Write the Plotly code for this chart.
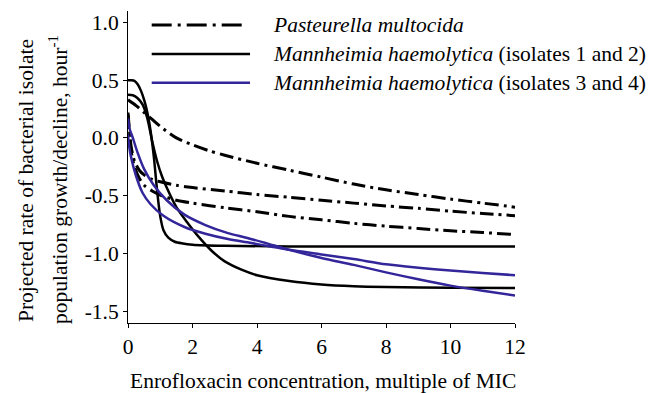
import plotly.graph_objects as go

# ---- data ----
x_p1 = [0, 0.25, 0.5, 0.75, 1, 1.5, 2, 2.5, 3, 4, 5, 6, 7, 8, 9, 10, 11, 12]
y_p1 = [0.33, 0.28, 0.22, 0.16, 0.10, 0.0, -0.06, -0.11, -0.15, -0.22, -0.28, -0.34, -0.40, -0.45, -0.49, -0.53, -0.565, -0.60]

x_p23 = [0, 0.05, 0.1, 0.2, 0.35, 0.5, 0.75, 1, 1.5, 2, 3, 4, 5, 6, 7, 8, 9, 10, 11, 12]
y_p2 = [0.22, 0.05, -0.08, -0.2, -0.28, -0.32, -0.36, -0.38, -0.41, -0.43, -0.46, -0.49, -0.515, -0.54, -0.565, -0.59, -0.61, -0.635, -0.655, -0.674]
y_p3 = [0.2, 0.0, -0.12, -0.25, -0.35, -0.41, -0.46, -0.495, -0.54, -0.565, -0.605, -0.64, -0.68, -0.71, -0.74, -0.765, -0.785, -0.805, -0.82, -0.838]

x_m1 = [0, 0.1, 0.2, 0.3, 0.4, 0.5, 0.6, 0.7, 0.8, 0.9, 1.0, 1.1, 1.25, 1.45, 1.7, 2, 3, 5, 12]
y_m1 = [0.5, 0.5, 0.495, 0.465, 0.41, 0.33, 0.22, 0.06, -0.16, -0.45, -0.68, -0.80, -0.865, -0.9, -0.915, -0.925, -0.935, -0.94, -0.94]

x_m2 = [0, 0.15, 0.3, 0.45, 0.6, 0.75, 0.9, 1.05, 1.2, 1.5, 1.85, 2.2, 2.6, 3, 3.5, 4, 5, 6, 7, 8, 10, 12]
y_m2 = [0.373, 0.37, 0.344, 0.29, 0.17, -0.03, -0.2, -0.33, -0.43, -0.6, -0.737, -0.86, -0.98, -1.07, -1.14, -1.19, -1.24, -1.27, -1.285, -1.292, -1.298, -1.30]

x_m3 = [0, 0.05, 0.15, 0.3, 0.5, 0.8, 1.2, 1.75, 2.4, 3.1, 3.7, 4.5, 5, 6, 7, 8, 9, 10, 11, 12]
y_m3 = [0.17, 0.08, 0.0, -0.13, -0.27, -0.41, -0.54, -0.665, -0.755, -0.825, -0.867, -0.93, -0.97, -1.04, -1.10, -1.165, -1.225, -1.28, -1.325, -1.366]

x_m4 = [0, 0.03, 0.09, 0.25, 0.45, 0.7, 1.1, 1.75, 2.4, 3.1, 3.7, 4.5, 5, 6, 7, 8, 9, 10, 11, 12]
y_m4 = [0.03, -0.06, -0.16, -0.33, -0.475, -0.575, -0.675, -0.772, -0.83, -0.876, -0.905, -0.945, -0.97, -1.01, -1.05, -1.095, -1.125, -1.15, -1.17, -1.19]

x_ticks = [0, 2, 4, 6, 8, 10, 12]
y_ticks = [-1.5, -1.0, -0.5, 0.0, 0.5, 1.0]
y_ticktext = ["-1.5", "-1.0", "-0.5", "0.0", "0.5", "1.0"]

legend_labels = [
    "<i>Pasteurella multocida</i>",
    "<i>Mannheimia haemolytica</i> (isolates 1 and 2)",
    "<i>Mannheimia haemolytica</i> (isolates 3 and 4)",
]

BLACK = "#000000"
BLUE = "#33269a"
FONT = "Liberation Serif, Times New Roman, serif"
FS = 21.5
DASHDOT = "14px,5px,3px,5px"

fig = go.Figure()

def add(x, y, color, width, dash):
    fig.add_trace(go.Scatter(x=x, y=y, mode="lines",
                             line=dict(color=color, width=width, dash=dash,
                                       shape="spline", smoothing=0.8),
                             showlegend=False, hoverinfo="skip"))

add(x_p1, y_p1, BLACK, 3, DASHDOT)
add(x_p23, y_p2, BLACK, 3, DASHDOT)
add(x_p23, y_p3, BLACK, 3, DASHDOT)
add(x_m1, y_m1, BLACK, 2.5, "solid")
add(x_m2, y_m2, BLACK, 2.5, "solid")
add(x_m3, y_m3, BLUE, 2.5, "solid")
add(x_m4, y_m4, BLUE, 2.5, "solid")

# plot area: x 128..515 px, y 11..323 px
L, R, T, B = 128, 139, 11, 70
W, H = 654, 393
pw, ph = W - L - R, H - T - B

def px2paper_x(px):
    return (px - L) / pw

def py2paper_y(py):
    return (H - B - py) / ph

# manual legend
rows = [25, 54, 82.7]
styles = [(BLACK, 3, "20px,6px,3px,6px", 247), (BLACK, 2.5, "solid", 250), (BLUE, 2.5, "solid", 250)]
for ry, (col, wd, ds, x1), lab in zip(rows, styles, legend_labels):
    fig.add_shape(type="line", xref="paper", yref="paper",
                  x0=px2paper_x(151.7), x1=px2paper_x(x1),
                  y0=py2paper_y(ry), y1=py2paper_y(ry),
                  line=dict(color=col, width=wd, dash=ds))
    fig.add_annotation(text=lab, xref="paper", yref="paper",
                       x=px2paper_x(271), y=py2paper_y(ry), xanchor="left", yanchor="middle",
                       showarrow=False, font=dict(family=FONT, size=FS, color="black"))

# y-axis title (two lines)
fig.add_annotation(text="Projected rate of bacterial isolate", xref="paper", yref="paper",
                   x=px2paper_x(26), y=py2paper_y(180), xanchor="center", yanchor="middle",
                   textangle=-90, showarrow=False, font=dict(family=FONT, size=FS, color="black"))
fig.add_annotation(text="population growth/decline, hour<sup>-1</sup>", xref="paper", yref="paper",
                   x=px2paper_x(58), y=py2paper_y(180), xanchor="center", yanchor="middle",
                   textangle=-90, showarrow=False, font=dict(family=FONT, size=FS, color="black"))
# x-axis title
fig.add_annotation(text="Enrofloxacin concentration, multiple of MIC", xref="paper", yref="paper",
                   x=px2paper_x(322.5), y=py2paper_y(381), xanchor="center", yanchor="middle",
                   showarrow=False, font=dict(family=FONT, size=FS, color="black"))

fig.update_xaxes(range=[0, 12], tickvals=x_ticks, ticks="outside", ticklen=4, tickwidth=1,
                 tickcolor="black", showline=True, linecolor="black", linewidth=1,
                 showgrid=False, zeroline=False,
                 tickfont=dict(family=FONT, size=FS, color="black"))
fig.update_yaxes(range=[-1.604, 1.1], tickvals=y_ticks, ticktext=y_ticktext, ticks="outside",
                 ticklen=4, tickwidth=1, tickcolor="black", showline=True, linecolor="black",
                 linewidth=1, showgrid=False, zeroline=False,
                 tickfont=dict(family=FONT, size=FS, color="black"))

fig.update_layout(width=W, height=H, margin=dict(l=L, r=R, t=T, b=B),
                  paper_bgcolor="white", plot_bgcolor="white", showlegend=False)

fig.write_html("out.html")
